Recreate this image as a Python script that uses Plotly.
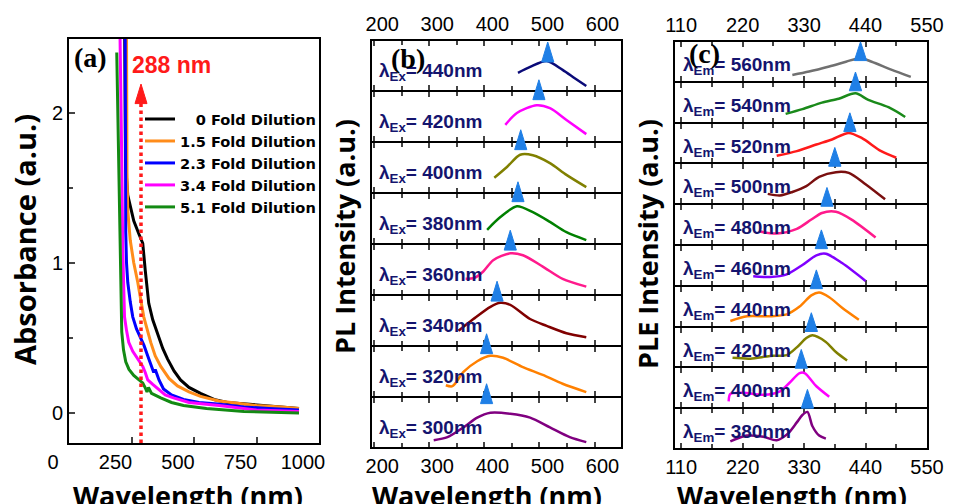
import plotly.graph_objects as go

W, H = 953, 504

# ---------------- Panel (a): absorbance ----------------
abs_names = ["0 Fold Dilution", "1.5 Fold Dilution", "2.3 Fold Dilution",
             "3.4 Fold Dilution", "5.1 Fold Dilution"]
abs_legend_text = ["\u2007\u20080 Fold Dilution", "1.5 Fold Dilution", "2.3 Fold Dilution",
                   "3.4 Fold Dilution", "5.1 Fold Dilution"]
abs_colors = ["#000000", "#ff8c1a", "#0000ff", "#ff00ff", "#138a13"]

abs_wl_0 = [221, 222, 223, 224, 226, 235, 259, 280, 295, 305, 319, 335, 355, 375, 394,
            420, 446, 480, 526, 580, 633, 700, 793, 850, 920]
abs_val_0 = [3.0, 2.6, 2.2, 1.9, 1.66, 1.45, 1.28, 1.19, 1.13, 0.95, 0.73, 0.62, 0.52, 0.43,
             0.36, 0.28, 0.22, 0.17, 0.13, 0.09, 0.07, 0.06, 0.05, 0.04, 0.03]
abs_wl_15 = [229, 230, 231, 232, 235, 245, 259, 275, 299, 327, 345, 367, 400, 434, 480,
             526, 600, 657, 750, 850, 920]
abs_val_15 = [3.0, 2.4, 2.0, 1.6, 1.35, 1.15, 1.0, 0.87, 0.64, 0.47, 0.38, 0.31, 0.23, 0.18,
              0.14, 0.11, 0.08, 0.07, 0.05, 0.04, 0.03]
abs_wl_23 = [224, 225, 226, 227, 230, 235, 245, 255, 270, 287, 300, 315, 330, 339, 345,
             360, 378, 410, 458, 520, 594, 700, 800, 920]
abs_val_23 = [3.0, 2.2, 1.6, 1.2, 1.0, 0.87, 0.74, 0.64, 0.56, 0.5, 0.45, 0.38, 0.31, 0.27,
              0.29, 0.22, 0.16, 0.12, 0.09, 0.07, 0.06, 0.04, 0.03, 0.02]
abs_wl_34 = [200, 205, 210, 215, 218, 222, 230, 239, 255, 275, 295, 305, 315, 335, 355,
             385, 418, 480, 600, 750, 920]
abs_val_34 = [3.0, 2.5, 1.8, 1.09, 0.8, 0.64, 0.55, 0.47, 0.41, 0.36, 0.31, 0.27, 0.22,
              0.19, 0.16, 0.12, 0.1, 0.07, 0.05, 0.02, 0.01]
abs_wl_51 = [191, 194, 198, 203, 207, 211, 218, 227, 240, 259, 280, 295, 307, 312, 318,
             330, 367, 410, 458, 550, 700, 920]
abs_val_51 = [2.40, 2.1, 1.6, 1.09, 0.8, 0.54, 0.42, 0.34, 0.29, 0.25, 0.22, 0.2, 0.16,
              0.14, 0.17, 0.13, 0.1, 0.07, 0.05, 0.03, 0.01, 0.0]
abs_wl = [abs_wl_0, abs_wl_15, abs_wl_23, abs_wl_34, abs_wl_51]
abs_val = [abs_val_0, abs_val_15, abs_val_23, abs_val_34, abs_val_51]

mark_288_x = 288
mark_288_bottom = -0.2
mark_288_base = 2.06
mark_288_tip = 2.19

# ---------------- Panel (b): PL spectra ----------------
pl_ex = [440, 420, 400, 380, 360, 340, 320, 300]
pl_colors = ["#0a0a78", "#ff00ff", "#808000", "#008000", "#ff1a8c", "#800000",
             "#ff8000", "#800080"]
pl_wl_440 = [461, 483, 513, 542, 564, 585]
pl_int_440 = [0.35, 0.47, 0.59, 0.41, 0.24, 0.08]
pl_wl_420 = [438, 459, 495, 519, 549, 585]
pl_int_420 = [0.33, 0.57, 0.73, 0.67, 0.43, 0.14]
pl_wl_400 = [418, 441, 465, 488, 519, 549, 585]
pl_int_400 = [0.29, 0.51, 0.76, 0.75, 0.59, 0.35, 0.10]
pl_wl_380 = [405, 429, 459, 488, 519, 549, 585]
pl_int_380 = [0.27, 0.53, 0.75, 0.63, 0.43, 0.22, 0.06]
pl_wl_360 = [366, 382, 398, 416, 447, 470, 506, 542, 585]
pl_int_360 = [0.31, 0.33, 0.46, 0.69, 0.83, 0.79, 0.56, 0.31, 0.15]
pl_wl_340 = [353, 380, 411, 429, 447, 483, 513, 549, 585]
pl_int_340 = [0.29, 0.53, 0.78, 0.86, 0.82, 0.53, 0.39, 0.24, 0.16]
pl_wl_320 = [330, 342, 362, 387, 411, 434, 470, 506, 542, 585]
pl_int_320 = [0.22, 0.2, 0.49, 0.71, 0.82, 0.78, 0.59, 0.43, 0.25, 0.08]
pl_wl_300 = [308, 333, 362, 387, 411, 447, 483, 519, 555, 585]
pl_int_300 = [0.14, 0.2, 0.4, 0.6, 0.7, 0.68, 0.6, 0.4, 0.2, 0.1]
pl_wl = [pl_wl_440, pl_wl_420, pl_wl_400, pl_wl_380, pl_wl_360, pl_wl_340, pl_wl_320, pl_wl_300]
pl_int = [pl_int_440, pl_int_420, pl_int_400, pl_int_380, pl_int_360, pl_int_340,
          pl_int_320, pl_int_300]
pl_peak_wl = [515, 499, 466, 461, 447, 423, 404, 404]
pl_peak_top = [0.96, 1.22, 1.24, 1.22, 1.27, 1.27, 1.24, 1.26]

# ---------------- Panel (c): PLE spectra ----------------
ple_em = [560, 540, 520, 500, 480, 460, 440, 420, 400, 380]
ple_colors = ["#707070", "#1a8a1a", "#ff1a1a", "#7a0f0f", "#ff1a8c", "#8000ff",
              "#ff8000", "#808000", "#ff00ff", "#800080"]
ple_wl_560 = [309, 339, 375, 405, 431, 451, 486, 521]
ple_int_560 = [0.15, 0.24, 0.37, 0.49, 0.59, 0.49, 0.29, 0.1]
ple_wl_540 = [297, 327, 362, 392, 422, 445, 481, 511]
ple_int_540 = [0.2, 0.32, 0.49, 0.59, 0.73, 0.56, 0.37, 0.12]
ple_wl_520 = [281, 317, 352, 380, 410, 433, 468, 495]
ple_int_520 = [0.17, 0.29, 0.46, 0.59, 0.76, 0.63, 0.29, 0.12]
ple_wl_500 = [265, 287, 309, 334, 357, 387, 410, 440, 475]
ple_int_500 = [0.24, 0.2, 0.29, 0.44, 0.68, 0.8, 0.78, 0.49, 0.1]
ple_wl_480 = [251, 281, 317, 343, 362, 387, 415, 458]
ple_int_480 = [0.32, 0.27, 0.39, 0.63, 0.8, 0.83, 0.63, 0.17]
ple_wl_460 = [239, 269, 299, 327, 352, 369, 398, 440]
ple_int_460 = [0.22, 0.2, 0.27, 0.51, 0.76, 0.8, 0.56, 0.1]
ple_wl_440 = [198, 228, 269, 299, 322, 343, 357, 375, 398, 428]
ple_int_440 = [0.12, 0.24, 0.24, 0.29, 0.49, 0.78, 0.85, 0.73, 0.46, 0.15]
ple_wl_420 = [202, 234, 269, 299, 317, 334, 345, 369, 387, 407]
ple_int_420 = [0.22, 0.2, 0.27, 0.29, 0.49, 0.73, 0.8, 0.63, 0.37, 0.15]
ple_wl_400 = [195, 198, 221, 257, 287, 304, 322, 331, 352, 375]
ple_int_400 = [0.15, 0.34, 0.37, 0.32, 0.41, 0.63, 0.88, 0.88, 0.54, 0.27]
ple_wl_380 = [198, 228, 257, 281, 301, 317, 327, 336, 345, 357, 369]
ple_int_380 = [0.17, 0.32, 0.29, 0.2, 0.37, 0.66, 0.85, 0.93, 0.56, 0.32, 0.24]
ple_wl = [ple_wl_560, ple_wl_540, ple_wl_520, ple_wl_500, ple_wl_480, ple_wl_460,
          ple_wl_440, ple_wl_420, ple_wl_400, ple_wl_380]
ple_int = [ple_int_560, ple_int_540, ple_int_520, ple_int_500, ple_int_480, ple_int_460,
           ple_int_440, ple_int_420, ple_int_400, ple_int_380]
ple_peak_wl = [431, 422, 412, 385, 371, 361, 352, 343, 325, 336]
ple_peak_top = [0.98, 1.24, 1.24, 1.39, 1.41, 1.37, 1.39, 1.34, 1.44, 1.46]

# ---------------- styling ----------------
TICKFONT = dict(family="Liberation Sans, Arial", size=20, color="black")
TITLEFONT = dict(family="Open Sans", size=27, color="black", weight="bold")
LABELFONT = dict(family="Liberation Sans, Arial", size=19, color="#14146e", weight="bold")
PANELFONT = dict(family="Liberation Serif, Times New Roman", size=28, color="black", weight="bold")
MARK_BLUE = "#1f7fe6"
TRI_HALF_NM = 11          # half-width of the peak triangles (nm)
B_TRI_H = 0.39            # triangle height in strip units, panel b
C_TRI_H = 0.46            # triangle height in strip units, panel c
LW = 2                    # frame line width (px)


def fx(p):
    return p / W


def fy(p):
    return 1 - p / H


def xdom(left, right):
    # domain such that the frame lines (drawn outside the domain) are centred on left/right
    return [fx(left + LW / 2), fx(right - LW / 2)]


def ydom(top, bottom):
    return [fy(bottom - LW / 2), fy(top + LW / 2)]


def triangles(xs, tops, height, half):
    tx, ty = [], []
    for x, t in zip(xs, tops):
        tx += [x - half, x, x + half, x - half, None]
        ty += [t - height, t, t - height, t - height, None]
    return tx, ty


fig = go.Figure()
layout = dict(width=W, height=H, autosize=False, margin=dict(l=0, r=0, t=0, b=0, pad=0),
              template="none", paper_bgcolor="white", plot_bgcolor="rgba(0,0,0,0)",
              showlegend=True)
annotations = []

# ---- panel a ----
for name, ltxt, col, xs, ys in zip(abs_names, abs_legend_text, abs_colors, abs_wl, abs_val):
    fig.add_trace(go.Scatter(x=xs, y=ys, mode="lines", name=ltxt,
                             line=dict(color=col, width=3), xaxis="x", yaxis="y"))
fig.add_trace(go.Scatter(x=[mark_288_x, mark_288_x], y=[mark_288_bottom, mark_288_base],
                         mode="lines", showlegend=False,
                         line=dict(color="#ff1a1a", width=3.5, dash="dot"), xaxis="x", yaxis="y"))
ax, ay = triangles([mark_288_x], [mark_288_tip], mark_288_tip - mark_288_base, 24)
fig.add_trace(go.Scatter(x=ax, y=ay, mode="lines", fill="toself", fillcolor="#ff1a1a",
                         line=dict(color="#ff1a1a", width=1), showlegend=False,
                         xaxis="x", yaxis="y"))

COMMON_AX = dict(showline=True, linewidth=LW, linecolor="black", showgrid=False,
                 zeroline=False, automargin=False, layer="below traces")

layout["xaxis"] = dict(domain=xdom(68, 320), range=[0, 1000], anchor="y",
                       tickvals=[0, 250, 500, 750, 1000], ticks="inside", ticklen=6, tickwidth=2,
                       mirror=True, tickfont=TICKFONT, ticklabelshift=-16, **COMMON_AX)
layout["yaxis"] = dict(domain=ydom(38, 444), range=[-0.2, 2.49], anchor="x",
                       tick0=0, dtick=1, ticks="inside", ticklen=6, tickwidth=2,
                       minor=dict(dtick=0.5, ticks="inside", ticklen=4, tickwidth=2),
                       mirror=True, tickfont=TICKFONT, **COMMON_AX)

# ---- panel b ----
b_left, b_right = 371, 622
b_top, b_h, b_n = 40, 51, 8
for k in range(b_n):
    n = 2 + k
    top = b_top + k * b_h
    bot = top + b_h
    fig.add_trace(go.Scatter(x=pl_wl[k], y=pl_int[k], mode="lines", showlegend=False,
                             line=dict(color=pl_colors[k], width=2.5, shape="spline", smoothing=0.8),
                             xaxis=f"x{n}", yaxis=f"y{n}"))
    layout[f"xaxis{n}"] = dict(domain=xdom(b_left, b_right), range=[196, 648], anchor=f"y{n}",
                               tick0=200, dtick=100, ticks="inside", ticklen=5, tickwidth=2,
                               minor=dict(dtick=50, ticks="inside", ticklen=4, tickwidth=2),
                               mirror="allticks", tickfont=TICKFONT,
                               showticklabels=(k == 0 or k == b_n - 1),
                               side="top" if k == 0 else "bottom", ticklabelshift=8,
                               **COMMON_AX)
    layout[f"yaxis{n}"] = dict(domain=ydom(top, bot), range=[0, 1], anchor=f"x{n}",
                               mirror=True, ticks="", showticklabels=False, **COMMON_AX)
    annotations.append(dict(text=f"λ<sub>Ex</sub>= {pl_ex[k]}nm", xref=f"x{n} domain",
                            yref=f"y{n} domain", x=0.02, y=0.36, xanchor="left",
                            yanchor="middle", showarrow=False, font=LABELFONT))

# overlay axis spanning all of panel b for the peak markers (one unit per strip)
bx, by = triangles(pl_peak_wl, [(b_n - 1 - k) + t for k, t in enumerate(pl_peak_top)],
                   B_TRI_H, TRI_HALF_NM)
fig.add_trace(go.Scatter(x=bx, y=by, mode="lines", fill="toself", fillcolor=MARK_BLUE,
                         line=dict(color=MARK_BLUE, width=1), showlegend=False,
                         xaxis="x20", yaxis="y20"))
layout["xaxis20"] = dict(domain=xdom(b_left, b_right), range=[196, 648], anchor="y20",
                         visible=False, automargin=False)
layout["yaxis20"] = dict(domain=[fy(b_top + b_n * b_h), fy(b_top)], range=[0, b_n],
                         anchor="x20", visible=False, automargin=False)

# ---- panel c ----
c_left, c_right = 674, 928
c_top, c_h, c_n = 41, 40.8, 10
for k in range(c_n):
    n = 10 + k
    top = c_top + k * c_h
    bot = top + c_h
    fig.add_trace(go.Scatter(x=ple_wl[k], y=ple_int[k], mode="lines", showlegend=False,
                             line=dict(color=ple_colors[k], width=2.5, shape="spline", smoothing=0.8),
                             xaxis=f"x{n}", yaxis=f"y{n}"))
    layout[f"xaxis{n}"] = dict(domain=xdom(c_left, c_right), range=[99, 550], anchor=f"y{n}",
                               tick0=110, dtick=110, ticks="inside", ticklen=5, tickwidth=2,
                               minor=dict(tick0=55, dtick=55, ticks="inside", ticklen=4, tickwidth=2),
                               mirror="allticks", tickfont=TICKFONT,
                               showticklabels=(k == 0 or k == c_n - 1),
                               side="top" if k == 0 else "bottom", **COMMON_AX)
    layout[f"yaxis{n}"] = dict(domain=ydom(top, bot), range=[0, 1], anchor=f"x{n}",
                               mirror=True, ticks="", showticklabels=False, **COMMON_AX)
    annotations.append(dict(text=f"λ<sub>Em</sub>= {ple_em[k]}nm", xref=f"x{n} domain",
                            yref=f"y{n} domain", x=0.024, y=0.38, xanchor="left",
                            yanchor="middle", showarrow=False, font=LABELFONT))

cx, cy = triangles(ple_peak_wl, [(c_n - 1 - k) + t for k, t in enumerate(ple_peak_top)],
                   C_TRI_H, TRI_HALF_NM)
fig.add_trace(go.Scatter(x=cx, y=cy, mode="lines", fill="toself", fillcolor=MARK_BLUE,
                         line=dict(color=MARK_BLUE, width=1), showlegend=False,
                         xaxis="x21", yaxis="y21"))
layout["xaxis21"] = dict(domain=xdom(c_left, c_right), range=[99, 550], anchor="y21",
                         visible=False, automargin=False)
layout["yaxis21"] = dict(domain=[fy(c_top + c_n * c_h), fy(c_top)], range=[0, c_n],
                         anchor="x21", visible=False, automargin=False)

# ---- titles & labels ----
titles = [
    dict(text="Absorbance (a.u.)", x=fx(24), y=fy(240), textangle=-90,
         font=dict(TITLEFONT, size=29)),
    dict(text="PL Intensity (a.u.)", x=fx(344), y=fy(237), textangle=-90),
    dict(text="PLE Intensity (a.u.)", x=fx(647), y=fy(244), textangle=-90),
    dict(text="Wavelength (nm)", x=fx(188), y=fy(495)),
    dict(text="Wavelength (nm)", x=fx(487), y=fy(495)),
    dict(text="Wavelength (nm)", x=fx(792), y=fy(495)),
]
for a in titles:
    a.setdefault("font", TITLEFONT)
    a.update(xref="paper", yref="paper", showarrow=False, xanchor="center", yanchor="middle")
annotations += titles

annotations += [
    dict(text="(a)", x=fx(72), y=fy(57), xref="paper", yref="paper", xanchor="left",
         yanchor="middle", showarrow=False, font=PANELFONT),
    dict(text="(b)", x=fx(389), y=fy(58), xref="paper", yref="paper", xanchor="left",
         yanchor="middle", showarrow=False, font=PANELFONT),
    dict(text="(c)", x=fx(687), y=fy(54), xref="paper", yref="paper", xanchor="left",
         yanchor="middle", showarrow=False, font=PANELFONT),
    dict(text="288 nm", x=fx(171), y=fy(65), xref="paper", yref="paper", xanchor="center",
         yanchor="middle", showarrow=False,
         font=dict(family="Liberation Sans, Arial", size=23, color="#ff1a1a", weight="bold")),
]

layout["annotations"] = annotations
layout["legend"] = dict(x=fx(140), y=fy(103), xanchor="left", yanchor="top",
                        bgcolor="rgba(0,0,0,0)", borderwidth=0, itemwidth=30,
                        tracegroupgap=0, traceorder="normal",
                        font=dict(family="DejaVu Sans", size=14.6, color="black",
                                  weight="bold"))

fig.update_layout(**layout)
fig.write_html("out.html", config={"displayModeBar": False},
               post_script="document.body.style.margin='0px';")
